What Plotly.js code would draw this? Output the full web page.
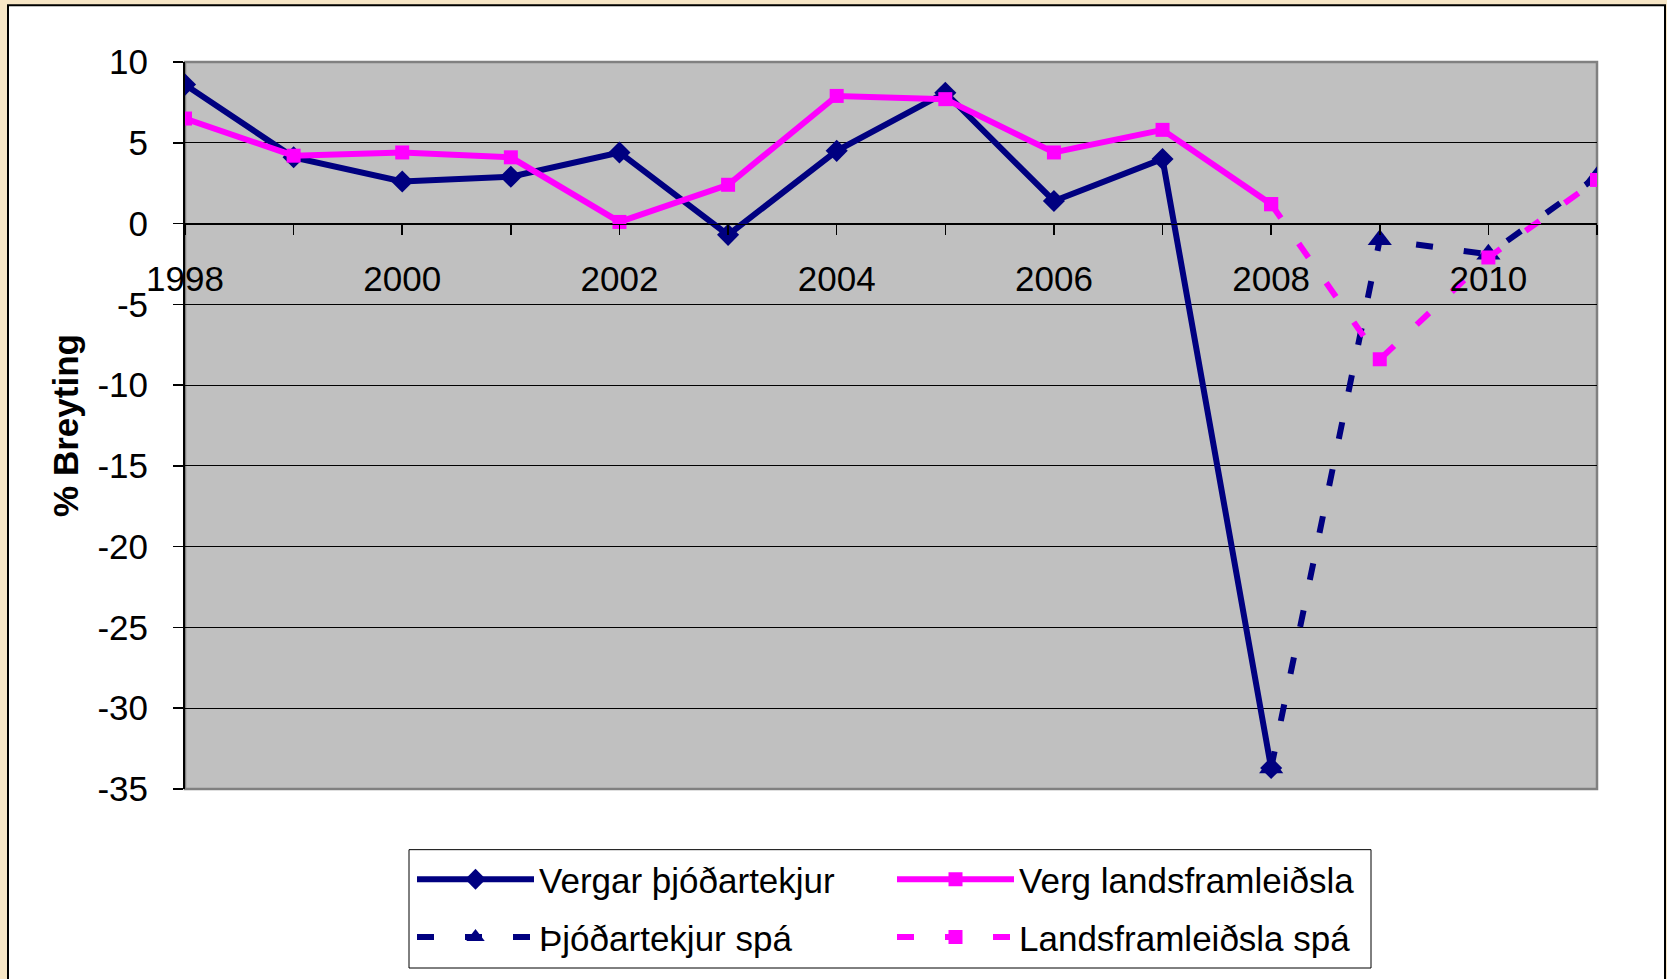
<!DOCTYPE html>
<html>
<head>
<meta charset="utf-8">
<script src="https://cdn.plot.ly/plotly-3.0.1.min.js"></script>
<style>
  html, body { margin: 0; padding: 0; background: #F7E6C6; }
  #chart { width: 1667px; height: 979px; }
</style>
</head>
<body>
<div id="chart"></div>
<script>
// ---- data ----
const years = [1998, 1999, 2000, 2001, 2002, 2003, 2004, 2005, 2006, 2007, 2008, 2009, 2010, 2011];
const seriesNames = ['Vergar þjóðartekjur', 'Verg landsframleiðsla', 'Þjóðartekjur spá', 'Landsframleiðsla spá'];
const vergarThjodartekjur = [8.6, 4.1, 2.6, 2.9, 4.4, -0.7, 4.5, 8.1, 1.4, 4.0, -33.7, null, null, null];
const vergLandsframleidsla = [6.5, 4.2, 4.4, 4.1, 0.1, 2.4, 7.9, 7.7, 4.4, 5.8, 1.2, null, null, null];
const thjodartekjurSpa = [null, null, null, null, null, null, null, null, null, null, -33.7, -1.0, -1.9, 2.9];
const landsframleidslaSpa = [null, null, null, null, null, null, null, null, null, null, 1.2, -8.4, -2.1, 2.7];
const yTickVals = [-35, -30, -25, -20, -15, -10, -5, 0, 5, 10];
const yTickText = ['-35', '-30', '-25', '-20', '-15', '-10', '-5', '0', '5', '10'];
const yTitle = '% Breyting';

const NAVY = '#000080';
const MAG = '#FF00FF';
const FONT = 'Liberation Sans, Arial, sans-serif';

const traces = [
  { x: years, y: vergarThjodartekjur, name: seriesNames[0], type: 'scatter', mode: 'lines+markers',
    line: { color: NAVY, width: 6 }, marker: { symbol: 'diamond', size: 17, color: NAVY },
    legend: 'legend' },
  { x: years, y: vergLandsframleidsla, name: seriesNames[1], type: 'scatter', mode: 'lines+markers',
    line: { color: MAG, width: 6 }, marker: { symbol: 'square', size: 14, color: MAG },
    legend: 'legend' },
  { x: years, y: thjodartekjurSpa, name: seriesNames[2], type: 'scatter', mode: 'lines+markers',
    line: { color: NAVY, width: 6, dash: '17px,31px' }, marker: { symbol: 'triangle-up', size: 21, color: NAVY },
    legend: 'legend2' },
  { x: years, y: landsframleidslaSpa, name: seriesNames[3], type: 'scatter', mode: 'lines+markers',
    line: { color: MAG, width: 6, dash: '17px,31px' }, marker: { symbol: 'square', size: 14, color: MAG },
    legend: 'legend2' }
];

const L = 185, R = 70, T = 62, B = 186, W = 1667, H = 979;
const pw = W - L - R, ph = H - T - B;
const px = v => (v - L) / pw;
const py = v => (H - B - v) / ph;

const legendCommon = {
  orientation: 'h', entrywidth: 348, entrywidthmode: 'pixels', itemwidth: 117,
  bgcolor: 'rgba(0,0,0,0)', borderwidth: 0, xanchor: 'left', yanchor: 'middle',
  font: { family: FONT, size: 35, color: '#000' }, traceorder: 'normal'
};

const layout = {
  width: W, height: H,
  margin: { l: L, r: R, t: T, b: B, pad: 0 },
  paper_bgcolor: '#F7E6C6',
  plot_bgcolor: 'rgba(0,0,0,0)',
  font: { family: FONT, size: 35, color: '#000' },
  showlegend: true,
  xaxis: {
    range: [1998, 2011], anchor: 'free', position: 35 / 45,
    tickmode: 'linear', tick0: 1998, dtick: 2,
    ticks: 'outside', ticklen: 10, tickwidth: 1.5, tickcolor: '#000',
    minor: { dtick: 1, tick0: 1998, ticks: 'outside', ticklen: 10, tickwidth: 1.5, tickcolor: '#000', showgrid: false },
    showgrid: false, zeroline: false, showline: true, linecolor: '#000', linewidth: 1.5,
    tickfont: { family: FONT, size: 35, color: '#000' }, ticklabelstandoff: 14,
    fixedrange: true
  },
  yaxis: {
    range: [-35, 10], tickmode: 'array', tickvals: yTickVals, ticktext: yTickText,
    ticks: 'outside', ticklen: 10, tickwidth: 1.5, tickcolor: '#000',
    showgrid: true, gridcolor: '#000', gridwidth: 1.2,
    zeroline: false, showline: true, linecolor: '#000', linewidth: 2,
    tickfont: { family: FONT, size: 35, color: '#000' }, ticklabelstandoff: 18,
    title: { text: yTitle, font: { family: FONT, size: 35, color: '#000', weight: 'bold' }, standoff: 8 },
    fixedrange: true
  },
  legend: Object.assign({}, legendCommon, { x: px(412), y: py(884) }),
  legend2: Object.assign({}, legendCommon, { x: px(412), y: py(942) }),
  shapes: [
    { type: 'rect', xref: 'paper', yref: 'paper', layer: 'below',
      x0: px(8), x1: px(1665), y0: py(995), y1: py(5),
      fillcolor: '#FFFFFF', line: { color: '#000', width: 2 } },
    { type: 'rect', xref: 'paper', yref: 'paper', layer: 'below',
      x0: 0, x1: 1, y0: 0, y1: 1,
      fillcolor: '#C0C0C0', line: { color: '#808080', width: 2.5 } },
    { type: 'rect', xref: 'paper', yref: 'paper', layer: 'below',
      x0: px(409), x1: px(1371), y0: py(973), y1: py(854),
      fillcolor: '#FFFFFF', line: { color: '#000', width: 1 } }
  ]
};

Plotly.newPlot('chart', traces, layout, { displayModeBar: false, staticPlot: true });
</script>
</body>
</html>
